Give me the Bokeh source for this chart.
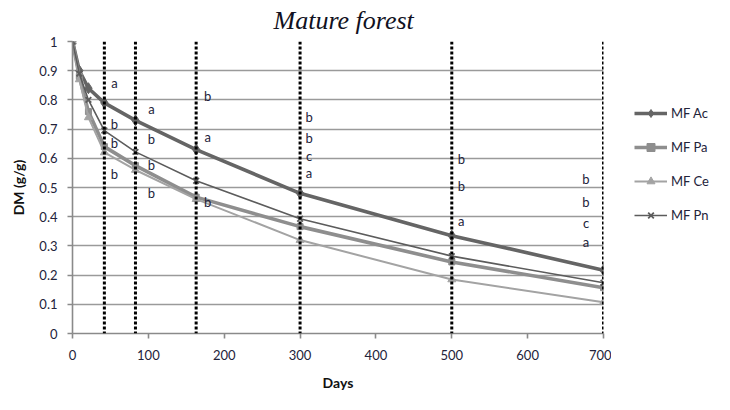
from bokeh.plotting import figure
from bokeh.layouts import row
from bokeh.models import (ColumnDataSource, Span, Legend, LegendItem,
                          FixedTicker, CustomJSTickFormatter, Range1d)
from bokeh.core.properties import value
from bokeh.embed import file_html
from bokeh.resources import INLINE

# ---------------- data ----------------
days = [0, 9, 21, 42, 83, 163, 300, 500, 700]
mf_ac = [1.0, 0.90, 0.84, 0.79, 0.73, 0.63, 0.48, 0.335, 0.217]
mf_pa = [1.0, 0.88, 0.76, 0.64, 0.575, 0.467, 0.366, 0.245, 0.157]
mf_ce = [1.0, 0.87, 0.74, 0.62, 0.56, 0.46, 0.32, 0.185, 0.107]
mf_pn = [1.0, 0.89, 0.80, 0.695, 0.622, 0.523, 0.393, 0.265, 0.174]

series_names = ["MF Ac", "MF Pa", "MF Ce", "MF Pn"]

sampling_days = [42, 83, 163, 300, 500, 700]

letter_day = [42] * 4 + [83] * 4 + [163] * 3 + [300] * 4 + [500] * 3 + [700] * 4
letter_text = ["a", "b", "b", "b",
               "a", "b", "b", "b",
               "b", "a", "b",
               "b", "b", "c", "a",
               "b", "b", "a",
               "b", "b", "c", "a"]
letter_y = [0.857, 0.718, 0.651, 0.545,
            0.769, 0.666, 0.577, 0.48,
            0.815, 0.674, 0.449,
            0.743, 0.669, 0.608, 0.551,
            0.597, 0.505, 0.386,
            0.528, 0.451, 0.377, 0.314]

x_ticks = [0, 100, 200, 300, 400, 500, 600, 700]
y_ticks = [0, 0.1, 0.2, 0.3, 0.4, 0.5, 0.6, 0.7, 0.8, 0.9, 1.0]

title_text = "Mature forest"
x_label = "Days"
y_label = "DM (g/g)"

# ---------------- styles ----------------
FONT = "Lato"
TXT = "#23233a"
styles = {
    "MF Ac": dict(color="#656565", width=3.6, marker="diamond", size=11),
    "MF Pa": dict(color="#8e8e8e", width=3.6, marker="square", size=6),
    "MF Ce": dict(color="#a3a3a3", width=2.0, marker="triangle", size=8),
    "MF Pn": dict(color="#5c5c5c", width=1.6, marker="x", size=8),
}
letter_offset = {42: 10, 83: 16, 163: 11.5, 300: 9, 500: 9.5, 700: -17.5}

p = figure(width=611, height=394, output_backend="svg", toolbar_location=None,
           x_range=Range1d(0, 700), y_range=Range1d(0, 1),
           min_border_left=72, min_border_right=8, min_border_top=41,
           min_border_bottom=61)
p.outline_line_color = None
p.background_fill_color = "white"

# title
p.title.text = title_text
p.title.align = "left"
p.title.offset = 201
p.title.vertical_align = "top"
p.title.standoff = 9
p.title.text_font = "Liberation Serif"
p.title.text_font_style = "italic"
p.title.text_font_size = "26px"
p.title.text_color = "#111122"

# grid
p.xgrid.grid_line_color = None
p.ygrid.grid_line_color = "#9a9a9a"
p.ygrid.grid_line_width = 1.6

# axes
for ax in (p.xaxis, p.yaxis):
    ax.axis_line_color = "#8a8a8a"
    ax.axis_line_width = 1.6
    ax.major_tick_line_color = "#8a8a8a"
    ax.major_tick_line_width = 1.6
    ax.major_tick_out = 5
    ax.major_tick_in = 0
    ax.minor_tick_line_color = None
    ax.major_label_text_font = FONT
    ax.major_label_text_font_size = "13px"
    ax.major_label_text_color = TXT
    ax.axis_label_text_font = FONT
    ax.axis_label_text_font_size = "14px"
    ax.axis_label_text_font_style = "bold"
    ax.axis_label_text_color = "#111111"

p.xaxis.ticker = FixedTicker(ticks=x_ticks)
p.yaxis.ticker = FixedTicker(ticks=y_ticks)
p.ygrid.ticker = FixedTicker(ticks=y_ticks)
p.yaxis.formatter = CustomJSTickFormatter(
    code="var s = tick.toFixed(1); return s.endsWith('.0') ? s.slice(0, -2) : s;")
p.xaxis.major_label_standoff = 11
p.yaxis.major_label_standoff = 10
p.xaxis.axis_label = x_label
p.yaxis.axis_label = y_label
p.xaxis.axis_label_standoff = 11
p.yaxis.axis_label_standoff = 9

# dashed sampling lines
for d in sampling_days:
    p.add_layout(Span(location=d, dimension="height", line_color="black",
                      line_width=3, line_dash="3 2"))

# legend panel (separate small figure next to the chart)
lg = figure(width=103, height=394, output_backend="svg", toolbar_location=None,
            x_range=Range1d(0, 1), y_range=Range1d(0, 1),
            min_border_left=0, min_border_right=0, min_border_top=0,
            min_border_bottom=0)
lg.outline_line_color = None
lg.axis.visible = False
lg.grid.grid_line_color = None


def draw(fig, st, xs, ys):
    src = ColumnDataSource(dict(x=xs, y=ys))
    lr = fig.line("x", "y", source=src, line_color=st["color"], line_width=st["width"])
    if st["marker"] == "x":
        mr = fig.scatter("x", "y", source=src, marker="x", size=st["size"],
                         line_color=st["color"], line_width=1.8)
    else:
        mr = fig.scatter("x", "y", source=src, marker=st["marker"], size=st["size"],
                         fill_color=st["color"], line_color=st["color"])
    return lr, mr


# series
data = {"MF Ac": mf_ac, "MF Pa": mf_pa, "MF Ce": mf_ce, "MF Pn": mf_pn}
items = []
for name in series_names:
    st = styles[name]
    draw(p, st, days, data[name])
    # legend-only renderers, kept outside the visible range of the legend panel
    lr, mr = draw(lg, st, [-5, -4], [-5, -5])
    items.append(LegendItem(label=name, renderers=[lr, mr]))

# significance letters
lsrc = ColumnDataSource(dict(x=letter_day, y=letter_y, t=letter_text,
                             xo=[letter_offset[d] for d in letter_day]))
p.text("x", "y", text="t", source=lsrc, x_offset="xo", text_align="center",
       text_baseline="middle", text_font=value(FONT), text_font_size="13px",
       text_color=TXT)

legend = Legend(items=items, location=(23, 108), padding=0, margin=0,
                border_line_color=None, background_fill_alpha=0,
                label_text_font=FONT, label_text_font_size="13px",
                label_text_color=TXT, glyph_width=33, glyph_height=20,
                label_height=20, spacing=14, label_standoff=4)
lg.add_layout(legend)

layout = row(p, lg)
open("out.html", "w").write(file_html(layout, INLINE))
